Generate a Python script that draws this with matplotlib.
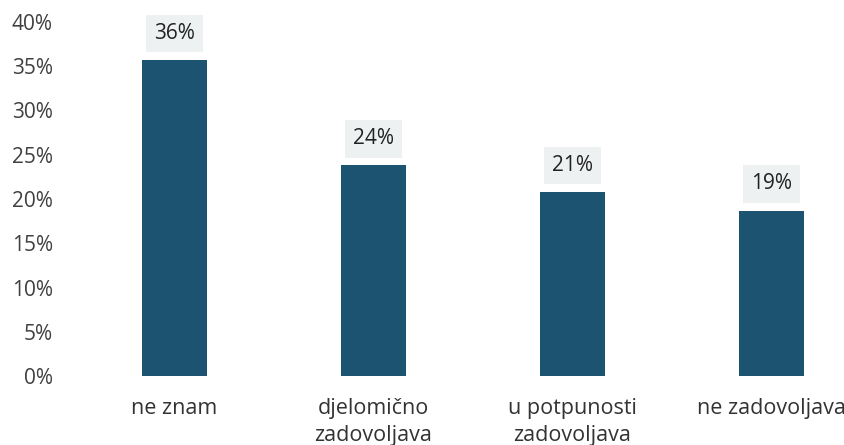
import matplotlib.pyplot as plt

categories = ["ne znam", "djelomično\nzadovoljava", "u potpunosti\nzadovoljava", "ne zadovoljava"]
values = [35.7, 23.8, 20.8, 18.7]
labels = ["36%", "24%", "21%", "19%"]
yticks = [0, 5, 10, 15, 20, 25, 30, 35, 40]

plt.rcParams['font.family'] = ['Open Sans', 'DejaVu Sans']

fig = plt.figure(figsize=(8.45, 4.45), dpi=100)
ax = fig.add_axes([75 / 845, 69 / 445, 770 / 845, 354 / 445])

x = list(range(len(categories)))
ax.bar(x, values, width=0.33, color='#1c5370')

for xi, v, lab in zip(x, values, labels):
    ax.text(xi, v + 3.0, lab, ha='center', va='center', fontsize=15, color='#222222',
            bbox=dict(boxstyle='square,pad=0.4', facecolor='#edf1f1', edgecolor='none'))

ax.set_xlim(-0.5, 3.37)
ax.set_ylim(0, 40)
ax.set_yticks(yticks)
ax.set_yticklabels([f"{t}%" for t in yticks])
ax.set_xticks(x)
ax.set_xticklabels(categories, linespacing=1.35)
ax.tick_params(axis='y', length=0, pad=16, labelsize=15, labelcolor='#404040')
ax.tick_params(axis='x', length=0, pad=16, labelsize=15.5, labelcolor='#333333')
for s in ax.spines.values():
    s.set_visible(False)

fig.savefig("out.png", dpi=100)
